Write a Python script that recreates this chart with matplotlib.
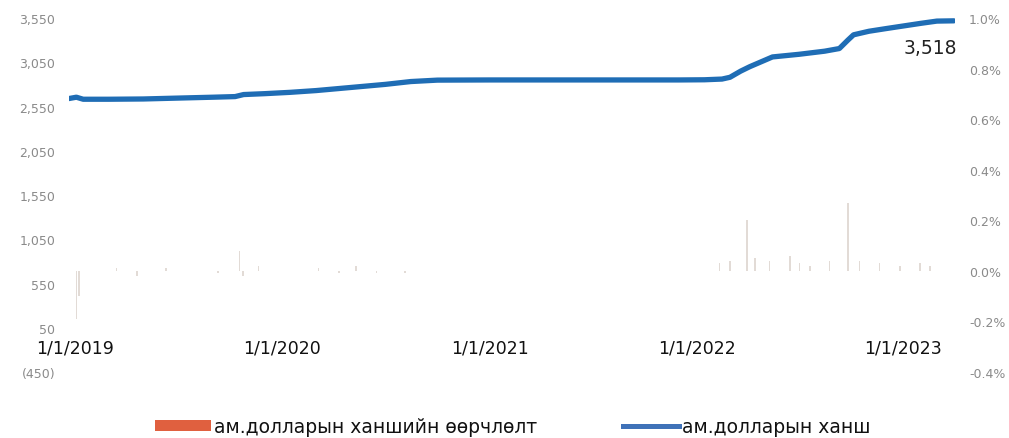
import matplotlib
matplotlib.use("Agg")
import matplotlib.pyplot as plt
import numpy as np
import pandas as pd
from matplotlib.patches import Patch
from matplotlib.lines import Line2D

plt.rcParams['font.family'] = ['DejaVu Sans']

# ---- data ----
rate_dates = ["2018-12-21", "2019-01-03", "2019-01-15", "2019-03-01", "2019-05-01",
              "2019-07-01", "2019-09-01", "2019-10-10", "2019-10-25", "2019-12-01",
              "2020-01-15", "2020-03-01", "2020-05-01", "2020-07-01", "2020-08-15",
              "2020-10-01", "2021-01-01", "2021-06-01", "2021-12-01", "2022-01-15",
              "2022-02-15", "2022-03-01", "2022-03-20", "2022-04-05", "2022-05-15",
              "2022-07-01", "2022-08-15", "2022-09-10", "2022-09-25", "2022-10-05",
              "2022-11-01", "2022-12-01", "2023-01-01", "2023-02-01", "2023-03-01",
              "2023-03-31"]
rate_values = [2640, 2655, 2632, 2632, 2635,
               2645, 2655, 2662, 2685, 2695,
               2710, 2730, 2765, 2800, 2832,
               2848, 2850, 2850, 2850, 2852,
               2860, 2880, 2950, 3000, 3110,
               3140, 3175, 3205, 3300, 3360,
               3400, 3430, 3460, 3490, 3515,
               3518]

chg_dates = ["2019-01-03", "2019-01-08", "2019-03-15", "2019-04-20", "2019-06-10",
             "2019-09-10", "2019-10-18", "2019-10-24", "2019-11-20", "2020-03-05",
             "2020-04-10", "2020-05-10", "2020-06-15", "2020-08-05",
             "2022-02-11", "2022-03-01", "2022-03-31", "2022-04-14", "2022-05-10",
             "2022-06-15", "2022-07-02", "2022-07-20", "2022-08-24", "2022-09-25",
             "2022-10-16", "2022-11-20", "2022-12-26", "2023-01-30", "2023-02-17"]
chg_values = [-0.19, -0.10, 0.01, -0.02, 0.01,
              -0.01, 0.08, -0.02, 0.02, 0.01,
              -0.01, 0.02, -0.01, -0.01,
              0.03, 0.04, 0.20, 0.05, 0.04,
              0.06, 0.03, 0.02, 0.04, 0.27,
              0.04, 0.03, 0.02, 0.03, 0.02]

left_ticks = [-450, 50, 550, 1050, 1550, 2050, 2550, 3050, 3550]
left_labels = ["(450)", "50", "550", "1,050", "1,550", "2,050", "2,550", "3,050", "3,550"]
right_ticks = [-0.4, -0.2, 0.0, 0.2, 0.4, 0.6, 0.8, 1.0]
right_labels = ["-0.4%", "-0.2%", "0.0%", "0.2%", "0.4%", "0.6%", "0.8%", "1.0%"]
x_ticks = ["2019-01-01", "2020-01-01", "2021-01-01", "2022-01-01", "2023-01-01"]
x_labels = ["1/1/2019", "1/1/2020", "1/1/2021", "1/1/2022", "1/1/2023"]
bar_label = "ам.долларын ханшийн өөрчлөлт"
line_label = "ам.долларын ханш"

rd = pd.to_datetime(rate_dates)
cd = pd.to_datetime(chg_dates)

fig = plt.figure(figsize=(10.09, 4.39), dpi=100)
ax = fig.add_axes([69/1009, 1-373/439, (955-69)/1009, (373-19)/439])
ax2 = ax.twinx()

ax.set_zorder(2)
ax.patch.set_visible(False)
ax2.bar(cd, chg_values, width=2.5, color="#e2dbd6", zorder=1)

ax.plot(rd, rate_values, color="#1f6db5", lw=3.8, solid_capstyle="round",
        solid_joinstyle="round", zorder=3)

ax.set_ylim(-450, 3550)
ax2.set_ylim(-0.4, 1.0)
ax.set_xlim(pd.Timestamp("2018-12-21"), pd.Timestamp("2023-04-02"))

ax.set_yticks(left_ticks)
ax.set_yticklabels(left_labels)
ax2.set_yticks(right_ticks)
ax2.set_yticklabels(right_labels)
ax.set_xticks(pd.to_datetime(x_ticks))
ax.set_xticklabels(x_labels)

for a in (ax, ax2):
    for s in a.spines.values():
        s.set_visible(False)
ax.tick_params(axis='y', length=0, labelsize=9, labelcolor="#8a8a8a", pad=10)
ax2.tick_params(axis='y', length=0, labelsize=9, labelcolor="#8a8a8a", pad=10)
ax.tick_params(axis='x', length=0, labelsize=12.5, labelcolor="#111111", pad=-24)

ax.annotate("3,518", xy=(rd[-1], rate_values[-1]), xytext=(2, -19), textcoords="offset points",
            ha="right", va="center", fontsize=13.5, color="#222222", zorder=5)

handles = [Patch(facecolor="#e0603f", edgecolor="none"),
           Line2D([0], [0], color="#3f72b8", lw=3.6)]
fig.legend(handles, [bar_label, line_label], loc="lower center", ncol=2,
           bbox_to_anchor=(0.508, -0.035), frameon=False, fontsize=13.5,
           columnspacing=4.6, handlelength=3.0, handleheight=0.5, handletextpad=0.15,
           labelcolor="#111111")

fig.savefig("out.png", dpi=100)
